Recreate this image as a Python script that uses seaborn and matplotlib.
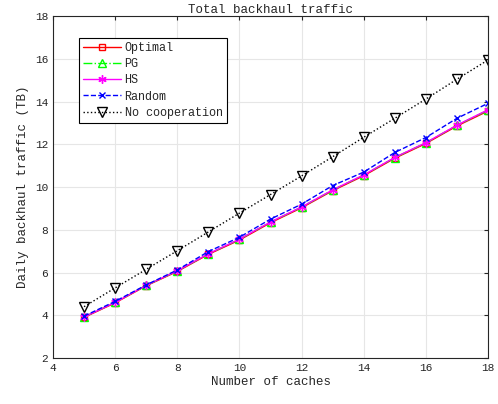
import numpy as np
import pandas as pd
from matplotlib import pyplot as plt
import seaborn as sns

caches = list(range(5, 19))
optimal = [3.90, 4.58, 5.38, 6.05, 6.85, 7.52, 8.33, 9.03, 9.83, 10.53, 11.35, 12.04, 12.86, 13.56]
pg = [3.92, 4.60, 5.40, 6.07, 6.87, 7.55, 8.36, 9.06, 9.86, 10.56, 11.38, 12.07, 12.89, 13.60]
hs = [3.92, 4.60, 5.40, 6.08, 6.88, 7.56, 8.37, 9.07, 9.87, 10.57, 11.39, 12.08, 12.90, 13.62]
random_ = [3.96, 4.65, 5.42, 6.12, 6.98, 7.65, 8.50, 9.20, 10.07, 10.70, 11.62, 12.32, 13.22, 13.92]
no_coop = [4.40, 5.28, 6.15, 7.02, 7.90, 8.78, 9.65, 10.52, 11.42, 12.33, 13.22, 14.12, 15.05, 15.95]

sns.set_style('white')
plt.rcParams['font.family'] = ['Liberation Mono', 'DejaVu Sans']
plt.rcParams['font.size'] = 8

fig = plt.figure(figsize=(4.98, 4.04), dpi=100)
ax = fig.add_axes([0.1064, 0.1139, 0.8736, 0.8461])

asterisk = (6, 2, 0)
series = [
    ('Optimal', optimal, 'red', '-', 's', 5),
    ('PG', pg, '#00ff00', '-.', '^', 6),
    ('HS', hs, 'magenta', '-', asterisk, 6),
    ('Random', random_, 'blue', '--', 'x', 5),
    ('No cooperation', no_coop, 'black', ':', 'v', 7),
]
for name, vals, col, ls, mk, ms in series:
    df = pd.DataFrame({'caches': caches, 'traffic': vals})
    sns.lineplot(data=df, x='caches', y='traffic', ax=ax, color=col, linestyle=ls,
                 marker=mk, markersize=ms, markerfacecolor='none', markeredgecolor=col,
                 markeredgewidth=1.0, linewidth=1.0, label=name)

ax.set_xlim(4, 18)
ax.set_ylim(2, 18)
ax.set_xticks(np.arange(4, 19, 2))
ax.set_yticks(np.arange(2, 19, 2))
ax.grid(True, color='#e6e6e6', linewidth=0.8)
ax.tick_params(direction='in', top=True, right=True, length=3, colors='#262626', labelsize=8)
for s in ax.spines.values():
    s.set_color('#262626')
    s.set_linewidth(0.8)
ax.set_xlabel('Number of caches', fontsize=9, labelpad=2)
ax.set_ylabel('Daily backhaul traffic (TB)', fontsize=9, labelpad=4)
ax.set_title('Total backhaul traffic', fontsize=9, pad=2)

leg = ax.legend(loc='upper left', bbox_to_anchor=(0.06, 0.936), borderaxespad=0, fontsize=8.5,
                frameon=True, fancybox=False, edgecolor='black', framealpha=1, handlelength=3.2,
                borderpad=0.35, labelspacing=0.35, handletextpad=0.3)
leg.get_frame().set_linewidth(0.8)

fig.savefig('out.png', dpi=100)
